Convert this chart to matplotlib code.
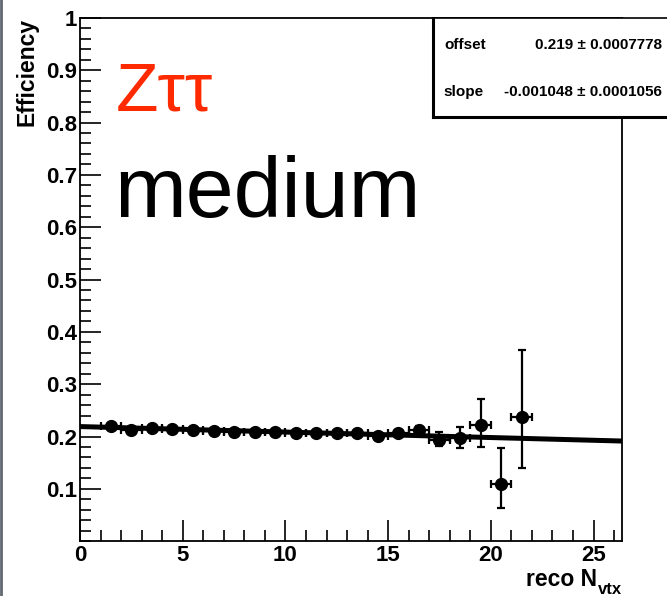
import numpy as np
import matplotlib.pyplot as plt
from matplotlib.ticker import MultipleLocator
from matplotlib.lines import Line2D

plt.rcParams['font.family'] = ['Liberation Sans', 'DejaVu Sans']

# binned efficiency vs reco N_vtx
nvtx = [1.5, 2.5, 3.5, 4.5, 5.5, 6.5, 7.5, 8.5, 9.5, 10.5, 11.5,
        12.5, 13.5, 14.5, 15.5, 16.5, 17.5, 18.5, 19.5, 20.5, 21.5]
eff = [0.220, 0.212, 0.217, 0.215, 0.212, 0.211, 0.208, 0.209, 0.208, 0.207, 0.206,
       0.206, 0.206, 0.201, 0.207, 0.213, 0.194, 0.197, 0.222, 0.110, 0.237]
err_lo = [0.003, 0.003, 0.003, 0.003, 0.003, 0.003, 0.003, 0.003, 0.003, 0.003, 0.003,
          0.004, 0.004, 0.005, 0.006, 0.007, 0.012, 0.019, 0.042, 0.047, 0.097]
err_hi = [0.003, 0.003, 0.003, 0.003, 0.003, 0.003, 0.003, 0.003, 0.003, 0.003, 0.003,
          0.004, 0.004, 0.005, 0.006, 0.007, 0.015, 0.021, 0.049, 0.068, 0.129]
bin_half = [0.5] * len(nvtx)

offset = 0.219
slope = -0.001048

fig = plt.figure(figsize=(6.67, 5.96), dpi=100)
ax = fig.add_axes([0.12, 0.092, 0.813, 0.878])

xfit = np.linspace(0, 26.4, 50)
ax.plot(xfit, offset + slope * xfit, color='black', lw=3.6, zorder=2)
ax.errorbar(nvtx, eff, xerr=bin_half, yerr=[err_lo, err_hi], fmt='o', color='black',
            ms=8.5, elinewidth=1.6, capsize=3, capthick=1.6, zorder=3)

ax.set_xlim(0, 26.4)
ax.set_ylim(0, 1)
ax.xaxis.set_major_locator(MultipleLocator(5))
ax.xaxis.set_minor_locator(MultipleLocator(1))
ax.yaxis.set_minor_locator(MultipleLocator(0.02))
ax.set_yticks(np.arange(0.1, 1.01, 0.1))
ax.set_yticklabels(['0.1', '0.2', '0.3', '0.4', '0.5', '0.6', '0.7', '0.8', '0.9', '1'])
ax.tick_params(which='both', direction='in', top=False, right=False, width=1.2)
ax.tick_params(which='major', length=15, labelsize=16)
ax.tick_params(axis='y', which='major', pad=2)
ax.tick_params(axis='x', which='major', pad=3)
ax.tick_params(which='minor', length=8)
for lab in ax.get_xticklabels() + ax.get_yticklabels():
    lab.set_fontweight('bold')
for sp in ax.spines.values():
    sp.set_linewidth(1.3)

fig.text(0.040, 0.970, 'Efficiency', rotation=90, ha='center', va='top',
         fontsize=16.5, fontweight='bold')
fig.text(0.895, 0.017, 'reco N', ha='right', va='baseline',
         fontsize=16.5, fontweight='bold')
fig.text(0.896, 0.004, 'vtx', ha='left', va='baseline',
         fontsize=12, fontweight='bold')

ax.text(0.065, 0.823, 'Z\u03c4\u03c4', transform=ax.transAxes, color='#ff2a00',
        fontsize=50, va='baseline', ha='left')
ax.text(0.063, 0.6195, 'medium', transform=ax.transAxes, color='black',
        fontsize=62, va='baseline', ha='left')

# fit statistics box
box = fig.add_axes([0.649, 0.8037, 0.36, 0.166])
box.set_xticks([])
box.set_yticks([])
box.set_xlim(0, 1)
box.set_ylim(0, 1)
for sp in box.spines.values():
    sp.set_linewidth(1.2)
box.spines['left'].set_linewidth(2.2)
box.spines['bottom'].set_linewidth(2.2)
box.text(0.046, 0.727, 'offset', fontsize=11, fontweight='bold', va='center')
box.text(0.954, 0.727, '0.219 \u00b1 0.0007778', fontsize=11, fontweight='bold',
         va='center', ha='right')
box.text(0.046, 0.25, 'slope', fontsize=11, fontweight='bold', va='center')
box.text(0.954, 0.25, '-0.001048 \u00b1 0.0001056', fontsize=11, fontweight='bold',
         va='center', ha='right')

# grey border at the left edge of the canvas
fig.add_artist(Line2D([0.002, 0.002], [0, 1], transform=fig.transFigure,
                      color='#606870', lw=2))

fig.savefig('out.png', dpi=100)
